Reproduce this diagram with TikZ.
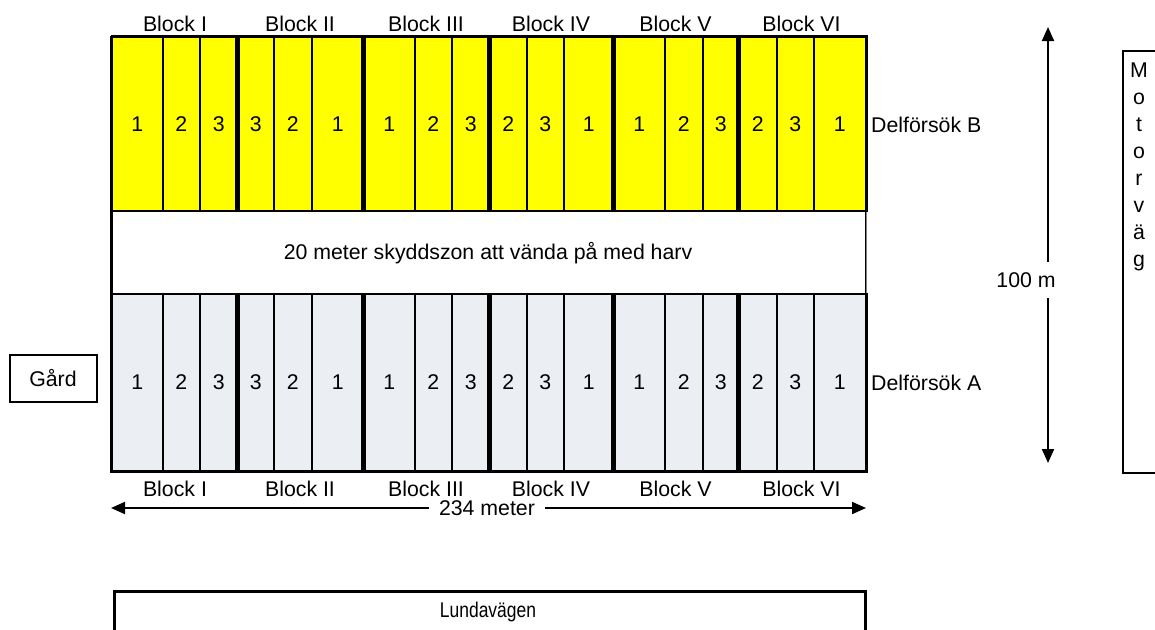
\documentclass[tikz,border=0pt]{standalone}
\usepackage{fontspec}
\usepackage{graphicx}
\setmainfont{Liberation Sans}
\usetikzlibrary{arrows.meta}
\definecolor{plotB}{RGB}{255,255,0}
\definecolor{plotA}{RGB}{235,238,243}
\begin{document}
\begin{tikzpicture}[x=1pt,y=-1pt,
  font=\fontsize{21.3}{24}\selectfont,
  plotbox/.style={draw, line width=1.6pt, inner sep=0pt, anchor=north west},
  sep/.style={line width=5pt},
  dim/.style={line width=2pt, -{Triangle[length=14pt,width=12pt]}},
  lbl/.style={inner sep=0pt}]
\clip (0,0) rectangle (1155,629);
\fill[white] (0,0) rectangle (1155,629);
% protection zone
\node[plotbox, line width=2pt, minimum width=754pt, minimum height=83pt] (zone) at (111,210) {};
\node[lbl] (zonetxt) at (488,253) {20 meter skyddszon att vända på med harv};
% plots
\foreach \x/\w/\n [count=\i] in {111/51/1,162/37/2,199/38/3,237/36/3,273/38/2,311/52/1,363/51/1,414/37/2,451/38/3,489/37/2,526/37/3,563/50/1,613/51/1,664/38/2,702/36/3,738/38/2,776/37/3,813/52/1}{
  \node[plotbox, fill=plotB, minimum width=\w pt, minimum height=174pt] (b\i) at (\x,36) {\n};
  \node[plotbox, fill=plotA, minimum width=\w pt, minimum height=177pt] (a\i) at (\x,293) {\n};
}
% block separators
\foreach \i in {4,7,10,13,16}{
  \draw[sep] (b\i.north west) -- (b\i.south west);
  \draw[sep] (a\i.north west) -- (a\i.south west);
}
% outer frames
\draw[line width=2.5pt] (b1.north west) -- (a1.south west) -- (a18.south east) -- (a18.north east);
\draw[line width=2.5pt] (b1.north west) -- (b18.north east) -- (b18.south east);
\draw[line width=1.5pt, gray] (b18.south east) -- (a18.north east);
% block labels
\foreach \c/\t [count=\i] in {175/I,300/II,426/III,551/IV,675.5/V,801.5/VI}{
  \node[lbl] (bt\i) at (\c,24) {Block \t};
  \node[lbl] (bb\i) at (\c,489) {Block \t};
}
\node[lbl, anchor=west] (delB) at (871,125) {Delförsök B};
\node[lbl, anchor=west] (delA) at (871,383) {Delförsök A};
% horizontal dimension
\coordinate (hl) at (111,508);
\coordinate (hr) at (866,508);
\node[inner sep=0pt, minimum width=116pt] (len) at (487,508) {234 meter};
\draw[dim] (len.west) -- (hl);
\draw[dim] (len.east) -- (hr);
% vertical dimension
\coordinate (vt) at (1048,27);
\coordinate (vb) at (1048,463);
\node[inner sep=0pt, minimum height=36pt] (h) at (1026,280) {100 m};
\draw[dim] (vt |- h.north) -- (vt);
\draw[dim] (vb |- h.south) -- (vb);
% Motorväg
\node[draw, line width=2pt, anchor=north west, minimum width=80pt, minimum height=422pt] (mv) at (1122,50) {};
\node[inner sep=0pt, anchor=north, align=center, font=\fontsize{21.3}{27}\selectfont] (mvt) at (1139,62.5) {M\\o\\t\\o\\r\\v\\ä\\g};
% Gård
\node[draw, line width=2pt, minimum width=87pt, minimum height=47pt] (gard) at (53,378) {Gård};
% Lundavägen
\node[draw, line width=2.5pt, anchor=north west, minimum width=751pt, minimum height=70pt] (lv) at (113,590) {};
\node[lbl] (lvt) at (488,612) {\scalebox{0.82}[1]{Lundavägen}};
\end{tikzpicture}
\end{document}
